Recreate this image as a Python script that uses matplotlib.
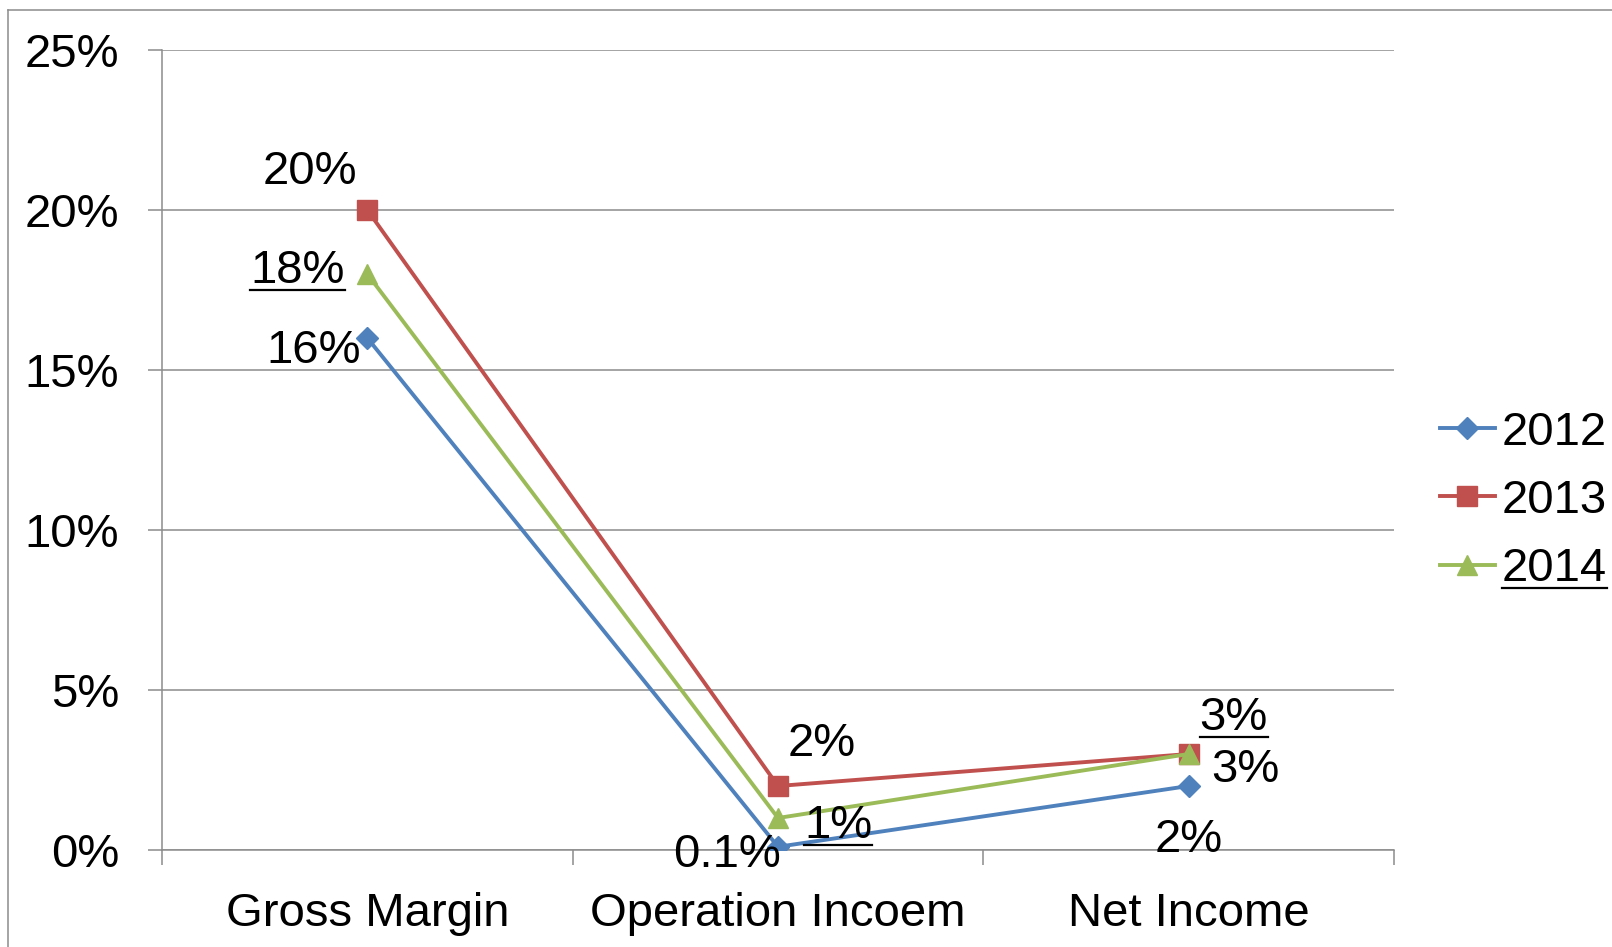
import matplotlib
matplotlib.use("Agg")
import matplotlib.pyplot as plt
from matplotlib.lines import Line2D

plt.rcParams['font.family'] = ['Liberation Sans', 'DejaVu Sans']

# margin data (percent)
categories = ['Gross Margin', 'Operation Incoem', 'Net Income']
years = ['2012', '2013', '2014']
values_2012 = [16, 0.1, 2]
values_2013 = [20, 2, 3]
values_2014 = [18, 1, 3]
point_labels_2012 = ['16%', '0.1%', '2%']
point_labels_2013 = ['20%', '2%', '3%']
point_labels_2014 = ['18%', '1%', '3%']
y_ticks = [0, 5, 10, 15, 20, 25]

colors = ['#4F81BD', '#C0504D', '#9BBB59']
markers = ['D', 's', '^']
marker_sizes = [11.5, 15, 15]
# label offsets in pixels (dx, dy) for each point
offsets = [
    [(-54, -25), (-51, -20), (0, -66)],
    [(-57, 26), (44, 30), (57, -28)],
    [(-70, -9), (60, -20), (45, 24)],
]
underline_series = 2  # the 2014 labels are underlined

fig = plt.figure(figsize=(16.12, 9.47), dpi=100)
ax = fig.add_axes([162 / 1612, 1 - 850 / 947, 1232 / 1612, 800 / 947])

grid_color = '#8C8C8C'
series = [values_2012, values_2013, values_2014]
labels = [point_labels_2012, point_labels_2013, point_labels_2014]
x = list(range(len(categories)))

for i, vals in enumerate(series):
    ax.plot(x, vals, color=colors[i], lw=2.8, marker=markers[i],
            ms=marker_sizes[i], label=years[i], zorder=3)

texts_to_underline = []
for i, vals in enumerate(series):
    for j, v in enumerate(vals):
        t = ax.annotate(labels[i][j], (x[j], v), xytext=offsets[i][j],
                        textcoords='offset pixels', ha='center', va='baseline',
                        fontsize=34, color='black', zorder=4)
        if i == underline_series:
            texts_to_underline.append(t)

ax.set_xlim(-0.5, 2.5)
ax.set_ylim(0, 25)
ax.set_yticks(y_ticks)
ax.set_yticklabels(['%d%%' % v for v in y_ticks], fontsize=34)
ax.set_xticks(x)
ax.set_xticklabels(categories, fontsize=34)
ax.set_xticks([-0.5, 0.5, 1.5, 2.5], minor=True)
ax.tick_params(axis='x', which='major', length=0, pad=30)
ax.tick_params(axis='x', which='minor', length=11, width=1.1, color=grid_color)
ax.tick_params(axis='y', length=10, width=1.1, color=grid_color, pad=21)
ax.yaxis.grid(True, color=grid_color, lw=1.1)
ax.set_axisbelow(True)
for side in ['top', 'right']:
    ax.spines[side].set_visible(False)
for side in ['left', 'bottom']:
    ax.spines[side].set_color(grid_color)
    ax.spines[side].set_linewidth(1.1)

leg = ax.legend(loc='center left', bbox_to_anchor=(1440 / 1612, 1 - 501 / 947),
                bbox_transform=fig.transFigure, frameon=False, fontsize=34,
                handlelength=1.16, handletextpad=0.15, labelspacing=0.51,
                borderpad=0, borderaxespad=0, numpoints=1)

# chart area border (left and top edges)
fig.add_artist(Line2D([8 / 1612, 8 / 1612], [0, 1 - 10 / 947],
                      transform=fig.transFigure, color=grid_color, lw=1.1))
fig.add_artist(Line2D([8 / 1612, 1], [1 - 10 / 947, 1 - 10 / 947],
                      transform=fig.transFigure, color=grid_color, lw=1.1))

# underline selected labels
texts_to_underline.append(leg.get_texts()[2])
fig.canvas.draw()
inv = fig.transFigure.inverted()
for t in texts_to_underline:
    bb = t.get_window_extent()
    (x0, y0), (x1, _) = inv.transform([(bb.x0, bb.y0 + 3), (bb.x1, bb.y0 + 3)])
    fig.add_artist(Line2D([x0, x1], [y0, y0], transform=fig.transFigure,
                          color='black', lw=1.6))

fig.savefig('out.png', dpi=100)
